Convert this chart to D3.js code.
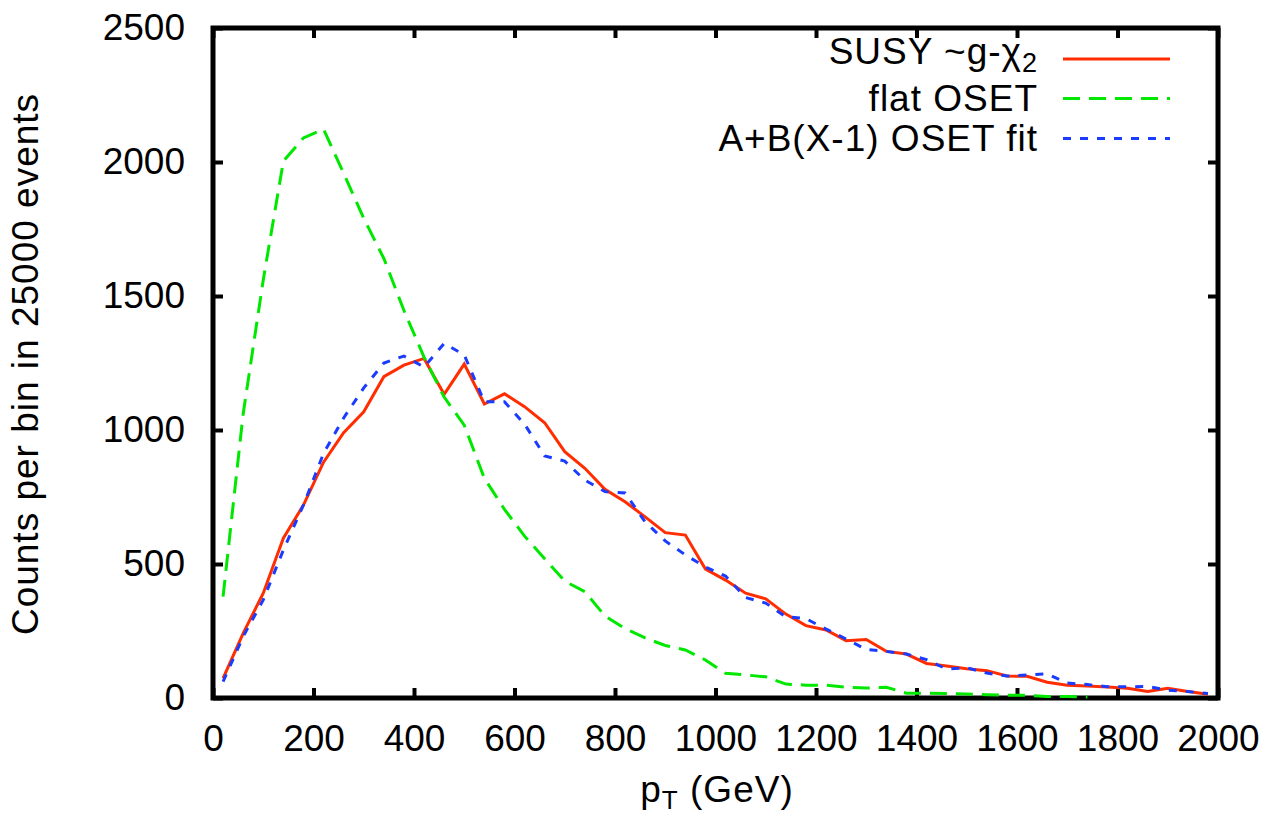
<!DOCTYPE html>
<html lang="en">
  <head>
    <meta charset="UTF-8" />
    <title>pT distribution: SUSY vs OSET</title>
    <script src="https://d3js.org/d3.v7.min.js"></script>
    <style>
      body { margin: 0; background: #fff; }
      text { font-family: "Liberation Sans", Arial, Helvetica, sans-serif; fill: #000; }
      .tick text { font-size: 37px; }
      .lbl { font-size: 37px; letter-spacing: 1px; }
    </style>
  </head>
  <body>
    <svg width="1272" height="817"></svg>

    <script>
      // bin centres (GeV)
      const pt = d3.range(20, 2000, 40);

      // SUSY ~g-chi2 (red, solid)
      const susy = [73, 241, 391, 596, 720, 880, 990, 1068, 1199, 1242,
        1267, 1133, 1246, 1097, 1135, 1087, 1027, 919, 857, 779,
        732, 676, 617, 608, 481, 440, 391, 370, 313, 270,
        254, 214, 218, 174, 164, 129, 119, 109, 102, 82,
        81, 59, 48, 45, 41, 36, 24, 36, 24, 14];

      // flat OSET (green, dashed) - runs out near 1740
      const flat = [378, 1060, 1560, 2003, 2090, 2122, 1958, 1790, 1640, 1446,
        1272, 1123, 1018, 820, 704, 604, 520, 436, 397, 306,
        259, 224, 196, 179, 142, 92, 86, 79, 52, 48,
        48, 40, 37, 40, 18, 18, 17, 15, 12, 10,
        10, 6, 6, 4];

      // A+B(X-1) OSET fit (blue, short dashes)
      const fit = [61, 229, 366, 552, 720, 913, 1045, 1157, 1250, 1276,
        1235, 1323, 1280, 1105, 1105, 1022, 903, 884, 813, 770,
        765, 657, 586, 534, 489, 455, 375, 354, 303, 296,
        257, 220, 181, 174, 164, 143, 108, 113, 93, 82,
        86, 90, 56, 50, 42, 42, 43, 29, 24, 17];

      const xTicks = d3.range(0, 2001, 200);
      const yTicks = d3.range(0, 2501, 500);

      const svg = d3.select("svg");
      const mLeft = 213, mRight = 1218, mTop = 28, mBottom = 698;

      const x = d3.scaleLinear().domain([0, 2000]).range([mLeft, mRight]);
      const y = d3.scaleLinear().domain([0, 2500]).range([mBottom, mTop]);

      // axes with inward ticks on all four sides
      const axB = svg.append("g").attr("transform", `translate(0,${mBottom})`)
        .call(d3.axisBottom(x).tickValues(xTicks).tickSize(-10).tickPadding(27).tickFormat(d3.format("d")));
      const axT = svg.append("g").attr("transform", `translate(0,${mTop})`)
        .call(d3.axisTop(x).tickValues(xTicks).tickSize(-10).tickFormat(""));
      const axL = svg.append("g").attr("transform", `translate(${mLeft},0)`)
        .call(d3.axisLeft(y).tickValues(yTicks).tickSize(-10).tickPadding(28).tickFormat(d3.format("d")));
      const axR = svg.append("g").attr("transform", `translate(${mRight},0)`)
        .call(d3.axisRight(y).tickValues(yTicks).tickSize(-10).tickFormat(""));

      [axB, axT, axL, axR].forEach(function (g) {
        g.select(".domain").remove();
        g.selectAll(".tick line").attr("stroke", "#000").attr("stroke-width", 4);
        g.selectAll(".tick text").attr("fill", "#000");
      });

      // frame
      svg.append("rect")
        .attr("x", mLeft).attr("y", mTop)
        .attr("width", mRight - mLeft).attr("height", mBottom - mTop)
        .attr("fill", "none").attr("stroke", "#000").attr("stroke-width", 5);

      const line = d3.line()
        .x(function (d) { return x(d[0]); })
        .y(function (d) { return y(d[1]); });

      const series = [
        { vals: susy, color: "#ff2d00", dash: null, width: 3 },
        { vals: flat, color: "#00e800", dash: "17,9", width: 3 },
        { vals: fit, color: "#1a3cff", dash: "8,9", width: 3 }
      ];

      series.forEach(function (s) {
        svg.append("path")
          .datum(s.vals.map(function (v, i) { return [pt[i], v]; }))
          .attr("d", line)
          .attr("fill", "none")
          .attr("stroke", s.color)
          .attr("stroke-width", s.width)
          .attr("stroke-dasharray", s.dash)
          .attr("stroke-linejoin", "miter");
      });

      // legend
      const legY = [59, 98.5, 138.5];
      const legBase = [64, 110.5, 150.5];
      const leg = svg.append("g");
      series.forEach(function (s, i) {
        leg.append("line")
          .attr("x1", 1063).attr("x2", 1170)
          .attr("y1", legY[i]).attr("y2", legY[i])
          .attr("stroke", s.color).attr("stroke-width", s.width)
          .attr("stroke-dasharray", s.dash);
      });
      const t0 = leg.append("text").attr("class", "lbl").attr("x", 1038).attr("y", legBase[0])
        .attr("text-anchor", "end");
      t0.append("tspan").text("SUSY ~g-χ");
      t0.append("tspan").attr("dy", 8).style("font-size", "27px").text("2");
      leg.append("text").attr("class", "lbl").attr("x", 1038).attr("y", legBase[1])
        .attr("text-anchor", "end").text("flat OSET");
      leg.append("text").attr("class", "lbl").attr("x", 1038).attr("y", legBase[2])
        .attr("text-anchor", "end").text("A+B(X-1) OSET fit");

      // axis titles
      const xt = svg.append("text").attr("class", "lbl").attr("x", 717).attr("y", 802)
        .attr("text-anchor", "middle");
      xt.append("tspan").text("p");
      xt.append("tspan").attr("dy", 7).style("font-size", "26px").text("T");
      xt.append("tspan").attr("dy", -7).text(" (GeV)");

      svg.append("text").attr("class", "lbl")
        .attr("transform", "translate(38,364) rotate(-90)")
        .attr("text-anchor", "middle")
        .text("Counts per bin in 25000 events");
    </script>
  </body>
</html>
